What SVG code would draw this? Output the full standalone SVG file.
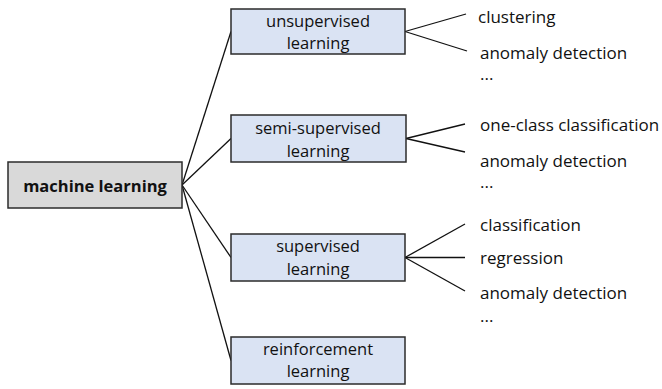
<svg xmlns="http://www.w3.org/2000/svg" width="662" height="389" viewBox="0 0 662 389">
<style>
.box{fill:#dae3f3;stroke:#2b2b2b;stroke-width:1.5}
.root{fill:#d9d9d9;stroke:#2b2b2b;stroke-width:1.5}
text{font-family:"Open Sans","Liberation Sans",Arial,sans-serif;font-size:17px;fill:#111}
.c{text-anchor:middle;font-size:16.5px}
.b{font-weight:bold}
#connectors line{stroke:#111;stroke-width:1.3}
</style>
<rect width="662" height="389" fill="#fff"/>
<g id="connectors">
<line x1="182" y1="185" x2="231" y2="31.5"/>
<line x1="182" y1="185" x2="231" y2="138.5"/>
<line x1="182" y1="185" x2="231" y2="257.5"/>
<line x1="182" y1="185" x2="231" y2="360.5"/>
<line x1="405" y1="31.5" x2="466" y2="14"/>
<line x1="405" y1="31.5" x2="467" y2="51"/>
<line x1="406" y1="138.5" x2="465" y2="124"/>
<line x1="406" y1="138.5" x2="465" y2="152"/>
<line x1="405" y1="257.5" x2="465" y2="224"/>
<line x1="405" y1="257.5" x2="465" y2="257.5"/>
<line x1="405" y1="257.5" x2="465" y2="291"/>
</g>
<g id="machine-learning">
<rect class="root" x="8" y="162" width="174" height="46"/>
<text class="c b" x="95" y="192">machine learning</text>
</g>
<g id="unsupervised">
<rect class="box" x="231" y="9" width="174" height="45"/>
<text class="c" x="318" y="27">unsupervised</text>
<text class="c" x="318" y="49">learning</text>
</g>
<g id="semi-supervised">
<rect class="box" x="231" y="115" width="175" height="47"/>
<text class="c" x="318" y="134">semi-supervised</text>
<text class="c" x="318" y="157">learning</text>
</g>
<g id="supervised">
<rect class="box" x="231" y="234" width="174" height="47"/>
<text class="c" x="318" y="252">supervised</text>
<text class="c" x="318" y="275">learning</text>
</g>
<g id="reinforcement">
<rect class="box" x="231" y="337" width="174" height="47"/>
<text class="c" x="318" y="355">reinforcement</text>
<text class="c" x="318" y="377">learning</text>
</g>
<g id="unsupervised-leaves">
<text x="478" y="23">clustering</text>
<text x="480" y="59">anomaly detection</text>
<text x="480" y="80">...</text>
</g>
<g id="semi-supervised-leaves">
<text x="480" y="131">one-class classification</text>
<text x="480" y="167">anomaly detection</text>
<text x="480" y="188">...</text>
</g>
<g id="supervised-leaves">
<text x="480" y="231">classification</text>
<text x="480" y="264">regression</text>
<text x="480" y="299">anomaly detection</text>
<text x="480" y="322">...</text>
</g>
</svg>
